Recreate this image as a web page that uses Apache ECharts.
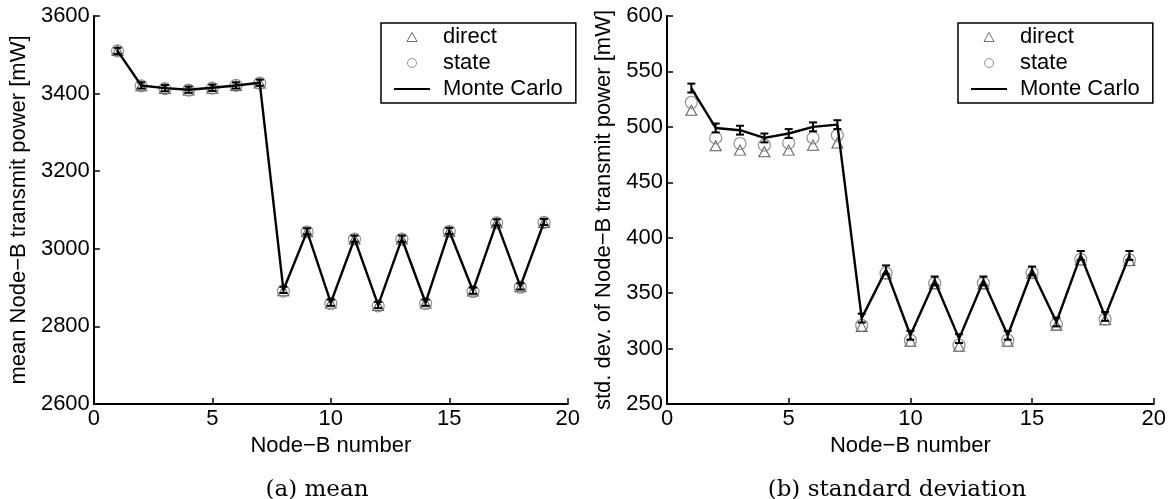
<!DOCTYPE html>
<html>
<head>
<meta charset="utf-8">
<script src="https://cdn.jsdelivr.net/npm/echarts@6/dist/echarts.min.js"></script>
<style>
  body { margin: 0; background: #fff; }
  #wrap { position: relative; width: 1169px; height: 499px; }
  #chartA { position: absolute; left: 0; top: 0; width: 583px; height: 499px; }
  #chartB { position: absolute; left: 583px; top: 0; width: 586px; height: 499px; }
</style>
</head>
<body>
<div id="wrap">
  <div id="chartA"></div>
  <div id="chartB"></div>
</div>
<script>
// Node-B index
const nodes = [1, 2, 3, 4, 5, 6, 7, 8, 9, 10, 11, 12, 13, 14, 15, 16, 17, 18, 19];

// (a) mean transmit power [mW]
const meanDirect = [3511, 3420, 3413, 3409, 3414, 3421, 3427, 2892, 3044, 2860, 3025, 2854, 3025, 2860, 3045, 2891, 3067, 2902, 3068];
const meanState  = [3510, 3420, 3413, 3409, 3414, 3421, 3427, 2891, 3044, 2859, 3025, 2853, 3025, 2859, 3045, 2890, 3067, 2901, 3068];
const meanMC     = [3510, 3421, 3414, 3410, 3415, 3421, 3428, 2894, 3045, 2861, 3026, 2855, 3026, 2861, 3046, 2892, 3068, 2903, 3069];
const meanErr    = [8, 8, 8, 8, 8, 8, 8, 8, 8, 8, 8, 8, 8, 8, 8, 8, 8, 8, 8];

// (b) standard deviation [mW]
const stdDirect = [515, 483, 479, 477.5, 479, 483.5, 485.5, 320, 367.5, 306.5, 358.5, 302, 358.5, 306.5, 368, 321, 380, 326, 379.5];
const stdState  = [522, 490, 485, 483.5, 485.5, 490, 492.5, 321, 368, 307.5, 359, 303, 359, 307.5, 368.5, 322, 380.5, 326.5, 380];
const stdMC     = [535, 499, 497, 490, 494, 500, 502, 327.5, 371, 312, 361, 309, 361, 312, 370, 324, 384, 329, 384];
const stdErr    = [4, 4, 4, 4, 4, 4, 4, 4, 4, 4, 4, 4, 4, 4, 4, 4, 4, 4, 4];

const sans = '"Liberation Sans", Arial, sans-serif';
const serif = '"DejaVu Serif", "Liberation Serif", serif';

function pairs(ys) {
  return nodes.map((n, i) => [n, ys[i]]);
}

function errBar(params, api) {
  const x = api.value(0);
  const lo = api.coord([x, api.value(1)]);
  const hi = api.coord([x, api.value(2)]);
  const w = 4;
  const st = { stroke: '#000', lineWidth: 2 };
  return {
    type: 'group',
    children: [
      { type: 'line', shape: { x1: lo[0], y1: lo[1], x2: hi[0], y2: hi[1] }, style: st },
      { type: 'line', shape: { x1: lo[0] - w, y1: lo[1], x2: lo[0] + w, y2: lo[1] }, style: st },
      { type: 'line', shape: { x1: hi[0] - w, y1: hi[1], x2: hi[0] + w, y2: hi[1] }, style: st }
    ]
  };
}

function makeOption(cfg) {
  const label = { color: '#000', fontSize: 22, fontFamily: sans, margin: 4, formatter: v => String(v) };
  const axisCommon = {
    axisLine: { lineStyle: { color: '#000', width: 2 } },
    axisTick: { inside: true, length: 6, lineStyle: { color: '#000', width: 1.5 } },
    axisLabel: label,
    splitLine: { show: false },
    nameTextStyle: { color: '#000', fontSize: 22, fontFamily: sans }
  };
  return {
    animation: false,
    title: {
      text: cfg.caption,
      left: cfg.captionX,
      top: 474,
      textAlign: 'center',
      textStyle: { fontFamily: serif, fontSize: 23, fontWeight: 'normal', color: '#000' }
    },
    legend: {
      orient: 'vertical',
      left: cfg.legendX,
      top: 23,
      padding: [3, 13, 3, 12],
      itemGap: 4,
      itemWidth: 36,
      itemHeight: 9,
      borderColor: '#000',
      borderWidth: 1.5,
      backgroundColor: '#fff',
      itemStyle: { borderWidth: 1 },
      textStyle: { fontSize: 22, lineHeight: 22, fontFamily: sans, color: '#000', padding: [0, 0, 0, 8] },
      data: [
        { name: 'direct', icon: 'path://M5,0L10,9L0,9Z', itemStyle: { borderWidth: 0.9, borderColor: '#333' } },
        { name: 'state', icon: 'circle', itemStyle: { borderWidth: 1, borderColor: '#777' } },
        { name: 'Monte Carlo', itemStyle: { color: 'transparent', borderColor: 'transparent', borderWidth: 0 },
          lineStyle: { color: '#000', width: 2 } }
      ]
    },
    grid: { left: cfg.gridLeft, width: 489, top: 16, bottom: 95 },
    xAxis: Object.assign({
      type: 'value', min: 0, max: 20, interval: 5,
      name: 'Node\u2212B number', nameLocation: 'middle', nameGap: 26
    }, axisCommon),
    yAxis: Object.assign({
      type: 'value', min: cfg.yMin, max: cfg.yMax, interval: cfg.yStep,
      name: cfg.yName, nameLocation: 'middle', nameGap: cfg.yNameGap
    }, axisCommon),
    series: [
      {
        name: 'direct', type: 'scatter', symbol: 'triangle', symbolSize: [11, 10],
        itemStyle: { color: 'transparent', borderColor: '#333', borderWidth: 1 },
        data: pairs(cfg.direct), z: 2
      },
      {
        name: 'state', type: 'scatter', symbol: 'circle', symbolSize: 12,
        itemStyle: { color: 'transparent', borderColor: '#777', borderWidth: 1.2 },
        data: pairs(cfg.state), z: 2
      },
      {
        name: 'Monte Carlo', type: 'line', symbol: 'none',
        lineStyle: { color: '#000', width: 2.4 },
        itemStyle: { color: 'transparent', borderColor: 'transparent', borderWidth: 0 },
        data: pairs(cfg.mc), z: 3
      },
      {
        type: 'custom', renderItem: errBar, z: 4,
        encode: { x: 0, y: [1, 2] },
        data: nodes.map((n, i) => [n, cfg.mc[i] - cfg.err[i], cfg.mc[i] + cfg.err[i]])
      }
    ]
  };
}

const chartA = echarts.init(document.getElementById('chartA'));
chartA.setOption(makeOption({
  caption: '(a) mean', captionX: 312, legendX: 381, gridLeft: 89,
  yMin: 2600, yMax: 3600, yStep: 200, yNameGap: 56,
  yName: 'mean Node\u2212B transmit power [mW]',
  direct: meanDirect, state: meanState, mc: meanMC, err: meanErr
}));

const chartB = echarts.init(document.getElementById('chartB'));
chartB.setOption(makeOption({
  caption: '(b) standard deviation', captionX: 309, legendX: 375, gridLeft: 84,
  yMin: 250, yMax: 600, yStep: 50, yNameGap: 49,
  yName: 'std. dev. of Node\u2212B transmit power [mW]',
  direct: stdDirect, state: stdState, mc: stdMC, err: stdErr
}));
</script>
</body>
</html>
